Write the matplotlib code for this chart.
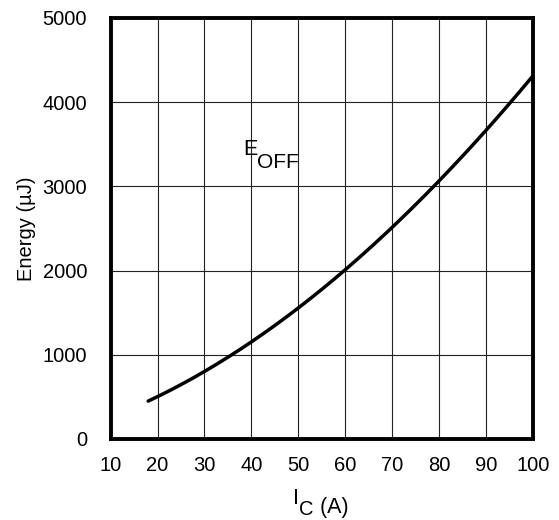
import matplotlib
matplotlib.use("Agg")
import matplotlib.pyplot as plt
import numpy as np

plt.rcParams['font.family'] = ['Liberation Sans', 'DejaVu Sans']

# Turn-off switching energy vs collector current
ic_amps = [18, 20, 30, 40, 50, 60, 70, 80, 90, 100]
eoff_uj = [440, 500, 820, 1165, 1530, 2000, 2520, 3060, 3680, 4300]

x_ticks = [10, 20, 30, 40, 50, 60, 70, 80, 90, 100]
y_ticks = [0, 1000, 2000, 3000, 4000, 5000]

fig = plt.figure(figsize=(5.59, 5.2), dpi=100)
ax = fig.add_axes([0.198, 0.156, 0.755, 0.8094])

# smooth the curve through the read points
xs = np.linspace(ic_amps[0], ic_amps[-1], 300)
coef = np.polyfit(ic_amps, eoff_uj, 3)
ax.plot(xs, np.polyval(coef, xs), color='black', lw=2.5, solid_capstyle='round', zorder=3)

ax.set_xlim(10, 100)
ax.set_ylim(0, 5000)
ax.set_xticks(x_ticks)
ax.set_yticks(y_ticks)
ax.grid(True, color='#222222', lw=0.8)
ax.set_axisbelow(True)
ax.tick_params(length=0, labelsize=14.5)
ax.tick_params(axis='x', pad=12)
ax.tick_params(axis='y', pad=17)
for s in ax.spines.values():
    s.set_linewidth(2.8)
    s.set_zorder(4)

ax.set_ylabel('Energy (µJ)', fontsize=14.5, labelpad=5)

# x label with a full-size, dropped subscript
t_i = fig.text(0.535, 0.031, 'I', fontsize=15.5, ha='right', va='baseline')
t_c = ax.annotate('C', xy=(1, 0), xycoords=t_i, xytext=(0, -4.2), textcoords='offset points',
                  fontsize=14.5, ha='left', va='baseline')
ax.annotate(' (A)', xy=(1, 0), xycoords=t_c, xytext=(0, 4.2), textcoords='offset points',
            fontsize=15.5, ha='left', va='baseline')

# curve label
t_e = ax.text(38.2, 3370, 'E', fontsize=15.5, ha='left', va='baseline')
ax.annotate('OFF', xy=(1, 0), xycoords=t_e, xytext=(0, -5.5), textcoords='offset points',
            fontsize=15, ha='left', va='baseline')

fig.savefig('out.png', dpi=100)
